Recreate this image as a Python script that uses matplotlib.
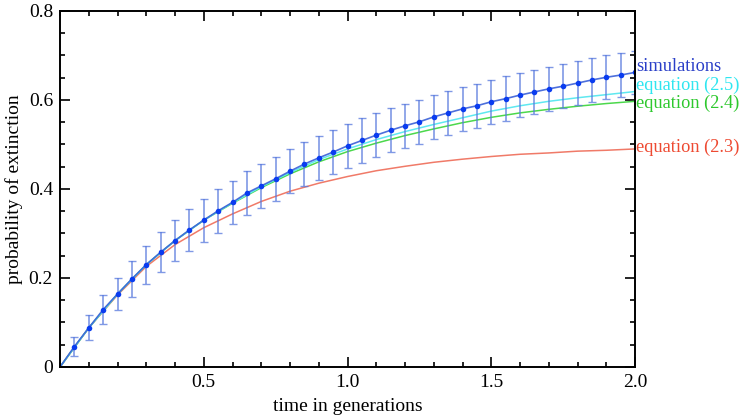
import numpy as np
import matplotlib
matplotlib.use("Agg")
import matplotlib.pyplot as plt
from matplotlib.ticker import MultipleLocator, FixedLocator

plt.rcParams['font.family'] = ['Liberation Serif', 'DejaVu Serif']

# simulation means and error bars (every 0.05 generations)
sim_t = [0.05, 0.10, 0.15, 0.20, 0.25, 0.30, 0.35, 0.40, 0.45, 0.50,
         0.55, 0.60, 0.65, 0.70, 0.75, 0.80, 0.85, 0.90, 0.95, 1.00,
         1.05, 1.10, 1.15, 1.20, 1.25, 1.30, 1.35, 1.40, 1.45, 1.50,
         1.55, 1.60, 1.65, 1.70, 1.75, 1.80, 1.85, 1.90, 1.95, 2.00]
sim_p = [0.046, 0.088, 0.129, 0.164, 0.198, 0.230, 0.258, 0.284, 0.308, 0.330,
         0.351, 0.370, 0.391, 0.407, 0.423, 0.440, 0.456, 0.470, 0.483, 0.497,
         0.509, 0.521, 0.532, 0.542, 0.551, 0.562, 0.571, 0.580, 0.587, 0.596,
         0.603, 0.611, 0.618, 0.625, 0.631, 0.638, 0.645, 0.651, 0.656, 0.662]
sim_err = [0.021, 0.028, 0.033, 0.037, 0.040, 0.043, 0.045, 0.046, 0.047, 0.048,
           0.049, 0.049, 0.050, 0.050, 0.050, 0.050, 0.050, 0.050, 0.050, 0.050,
           0.050, 0.050, 0.050, 0.050, 0.050, 0.050, 0.050, 0.050, 0.050, 0.050,
           0.050, 0.050, 0.050, 0.049, 0.049, 0.049, 0.049, 0.049, 0.049, 0.048]

# analytic curves (every 0.1 generations)
eq_t = [0.0, 0.1, 0.2, 0.3, 0.4, 0.5, 0.6, 0.7, 0.8, 0.9, 1.0,
        1.1, 1.2, 1.3, 1.4, 1.5, 1.6, 1.7, 1.8, 1.9, 2.0]
eq23 = [0.0, 0.088, 0.162, 0.226, 0.275, 0.313, 0.344, 0.372, 0.395, 0.413, 0.428,
        0.441, 0.451, 0.460, 0.467, 0.473, 0.478, 0.481, 0.485, 0.487, 0.490]
eq24 = [0.0, 0.088, 0.164, 0.230, 0.284, 0.330, 0.368, 0.403, 0.434, 0.461, 0.484,
        0.503, 0.520, 0.535, 0.549, 0.561, 0.571, 0.579, 0.586, 0.592, 0.597]
eq25 = [0.0, 0.088, 0.164, 0.230, 0.284, 0.330, 0.369, 0.405, 0.437, 0.466, 0.490,
        0.511, 0.529, 0.545, 0.560, 0.575, 0.587, 0.597, 0.605, 0.612, 0.619]

x_ticks = [0.5, 1.0, 1.5, 2.0]
x_ticklabels = ['0.5', '1.0', '1.5', '2.0']
y_ticks = [0.0, 0.2, 0.4, 0.6, 0.8]
y_ticklabels = ['0', '0.2', '0.4', '0.6', '0.8']

labels = ['simulations', 'equation (2.5)', 'equation (2.4)', 'equation (2.3)']
label_y = [0.675, 0.632, 0.593, 0.493]
colors = ['#2a3fc8', '#2fe6f0', '#2ec82e', '#ee4a32']

fig = plt.figure(figsize=(7.42, 4.16), dpi=100)
ax = fig.add_axes([0.0809, 0.1178, 0.7749, 0.8558])

ax.plot(eq_t, eq23, color='#f07a68', lw=1.1)
ax.plot(eq_t, eq24, color='#4cd84c', lw=1.1)
ax.plot(eq_t, eq25, color='#5fe8f0', lw=1.1)
ax.plot([0.0] + sim_t, [0.0] + sim_p, color='#3a60d8', lw=1.2, alpha=0.9)
ax.errorbar(sim_t, sim_p, yerr=sim_err, fmt='none', ecolor='#5577dd',
            elinewidth=1.2, capsize=3, capthick=1.0, alpha=0.75)
ax.plot(sim_t, sim_p, 'o', color='#0a3cf0', ms=4, mec='none')

ax.set_xlim(0, 2.0)
ax.set_ylim(0, 0.8)
ax.xaxis.set_major_locator(FixedLocator(x_ticks))
ax.xaxis.set_minor_locator(MultipleLocator(0.1))
ax.yaxis.set_major_locator(FixedLocator(y_ticks))
ax.yaxis.set_minor_locator(MultipleLocator(0.05))
ax.set_xticklabels(x_ticklabels)
ax.set_yticklabels(y_ticklabels)
ax.tick_params(which='both', direction='in', top=True, right=True,
               labelsize=14, width=1.2, pad=5)
ax.tick_params(which='major', length=7)
ax.tick_params(which='minor', length=3.5)
for s in ax.spines.values():
    s.set_linewidth(1.4)

ax.set_xlabel('time in generations', fontsize=14, labelpad=5)
ax.set_ylabel('probability of extinction', fontsize=14, labelpad=4)

for txt, yv, c in zip(labels, label_y, colors):
    ax.text(1.002, yv, txt, transform=ax.get_yaxis_transform(), color=c,
            fontsize=13.2, va='center', ha='left', clip_on=False)

fig.savefig('out.png', dpi=100)
